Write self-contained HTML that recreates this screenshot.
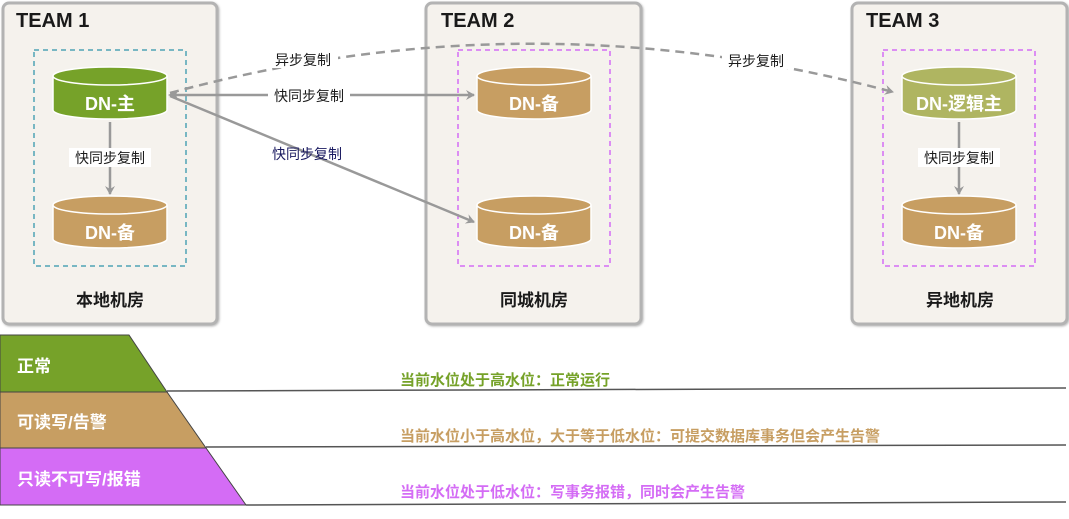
<!DOCTYPE html>
<html><head><meta charset="utf-8"><style>
html,body{margin:0;padding:0;background:#fff;}
svg{display:block;font-family:"Liberation Sans","Noto Sans CJK SC",sans-serif;}
</style></head><body>
<svg width="1069" height="519" viewBox="0 0 1069 519" xmlns="http://www.w3.org/2000/svg">
<defs>
<marker id="ah" markerWidth="10" markerHeight="10" refX="8" refY="5" orient="auto" markerUnits="userSpaceOnUse">
<path d="M0,0 L9,5 L0,10 L3,5 Z" fill="#999"/></marker>
<filter id="sh"><feDropShadow dx="1" dy="1" stdDeviation="1" flood-color="#888" flood-opacity="0.6"/></filter>
</defs>
<!-- panels -->
<g fill="#f5f2ed" stroke="#b3b3b3" stroke-width="3" filter="url(#sh)">
<rect x="3" y="3" width="214" height="321" rx="6"/>
<rect x="426" y="3" width="215" height="321" rx="6"/>
<rect x="852" y="3" width="215" height="321" rx="6"/>
</g>
<g font-weight="bold" font-size="20" fill="#1a1a1a">
<text x="16" y="27">TEAM 1</text>
<text x="441" y="27">TEAM 2</text>
<text x="866" y="27">TEAM 3</text>
</g>
<g font-weight="bold" font-size="17" fill="#1a1a1a" text-anchor="middle">
<text x="110" y="306">本地机房</text>
<text x="534" y="306">同城机房</text>
<text x="960" y="306">异地机房</text>
</g>
<!-- dashed boxes -->
<rect x="34" y="50" width="152" height="216" fill="none" stroke="#4fa3b5" stroke-width="1.5" stroke-dasharray="5,4"/>
<rect x="458" y="50" width="152" height="216" fill="none" stroke="#d46cf5" stroke-width="1.5" stroke-dasharray="5,4"/>
<rect x="883" y="50" width="152" height="216" fill="none" stroke="#d46cf5" stroke-width="1.5" stroke-dasharray="5,4"/>
<!-- cylinders -->
<g stroke="#fff" stroke-width="1.5">
<path d="M53,76 L53,110 A57,9 0 0 0 167,110 L167,76" fill="#76a229"/><ellipse cx="110" cy="76" rx="57" ry="9" fill="#76a229"/>
<path d="M53,205 L53,239 A57,9 0 0 0 167,239 L167,205" fill="#c79e62"/><ellipse cx="110" cy="205" rx="57" ry="9" fill="#c79e62"/>
<path d="M477,76 L477,110 A57,9 0 0 0 591,110 L591,76" fill="#c79e62"/><ellipse cx="534" cy="76" rx="57" ry="9" fill="#c79e62"/>
<path d="M477,205 L477,239 A57,9 0 0 0 591,239 L591,205" fill="#c79e62"/><ellipse cx="534" cy="205" rx="57" ry="9" fill="#c79e62"/>
<path d="M902,76 L902,110 A57,9 0 0 0 1016,110 L1016,76" fill="#afb561"/><ellipse cx="959" cy="76" rx="57" ry="9" fill="#afb561"/>
<path d="M902,205 L902,239 A57,9 0 0 0 1016,239 L1016,205" fill="#c79e62"/><ellipse cx="959" cy="205" rx="57" ry="9" fill="#c79e62"/>
</g>
<g font-weight="bold" font-size="18" fill="#fff" text-anchor="middle">
<text x="110" y="110">DN-主</text>
<text x="110" y="239">DN-备</text>
<text x="534" y="110">DN-备</text>
<text x="534" y="239">DN-备</text>
<text x="959" y="110">DN-逻辑主</text>
<text x="959" y="239">DN-备</text>
</g>
<!-- connectors -->
<g stroke="#999" stroke-width="2.5" fill="none">
<path d="M170,93 Q530,-5 893,92" stroke-dasharray="9,6" marker-end="url(#ah)"/>
<line x1="170" y1="95" x2="474" y2="95" marker-end="url(#ah)"/>
<line x1="170" y1="96" x2="474" y2="222" marker-end="url(#ah)"/>
<line x1="110" y1="122" x2="110" y2="194" marker-end="url(#ah)"/>
<line x1="959" y1="122" x2="959" y2="194" marker-end="url(#ah)"/>
</g>
<path d="M168,95 L178,90 L176,95 L178,100 Z" fill="#999"/>
<g font-size="14" fill="#1a1a1a" text-anchor="middle">
<rect x="268" y="50" width="70" height="18" fill="#fff"/>
<text x="303" y="65">异步复制</text>
<rect x="722" y="51" width="68" height="18" fill="#fff"/>
<text x="756" y="66">异步复制</text>
<rect x="268" y="87" width="82" height="17" fill="#fff"/>
<text x="309" y="101">快同步复制</text>
<text x="307" y="159" fill="#1a1a60">快同步复制</text>
<rect x="69" y="148" width="82" height="19" fill="#fff"/>
<text x="110" y="163">快同步复制</text>
<rect x="918" y="148" width="82" height="19" fill="#fff"/>
<text x="959" y="163">快同步复制</text>
</g>
<!-- bottom bands -->
<polygon points="0,335 129,335 167,392 0,392" fill="#76a229" stroke="#444" stroke-width="1"/>
<polygon points="0,392 167,392 206,448 0,448" fill="#c79e62" stroke="#444" stroke-width="1"/>
<polygon points="0,448 206,448 246,505 0,505" fill="#d46cf5" stroke="#444" stroke-width="1"/>
<g stroke="#555" stroke-width="1.5">
<line x1="167" y1="391" x2="1066" y2="388"/>
<line x1="206" y1="447" x2="1066" y2="445"/>
<line x1="246" y1="505" x2="1066" y2="502"/>
</g>
<g font-weight="bold" font-size="17" fill="#fff">
<text x="17" y="372">正常</text>
<text x="17" y="428">可读写/告警</text>
<text x="17" y="485">只读不可写/报错</text>
</g>
<g font-weight="bold" font-size="15">
<text x="400" y="385" fill="#76a229">当前水位处于高水位：正常运行</text>
<text x="400" y="441" fill="#c79e62">当前水位小于高水位，大于等于低水位：可提交数据库事务但会产生告警</text>
<text x="400" y="497" fill="#d46cf5">当前水位处于低水位：写事务报错，同时会产生告警</text>
</g>
</svg>
</body></html>
